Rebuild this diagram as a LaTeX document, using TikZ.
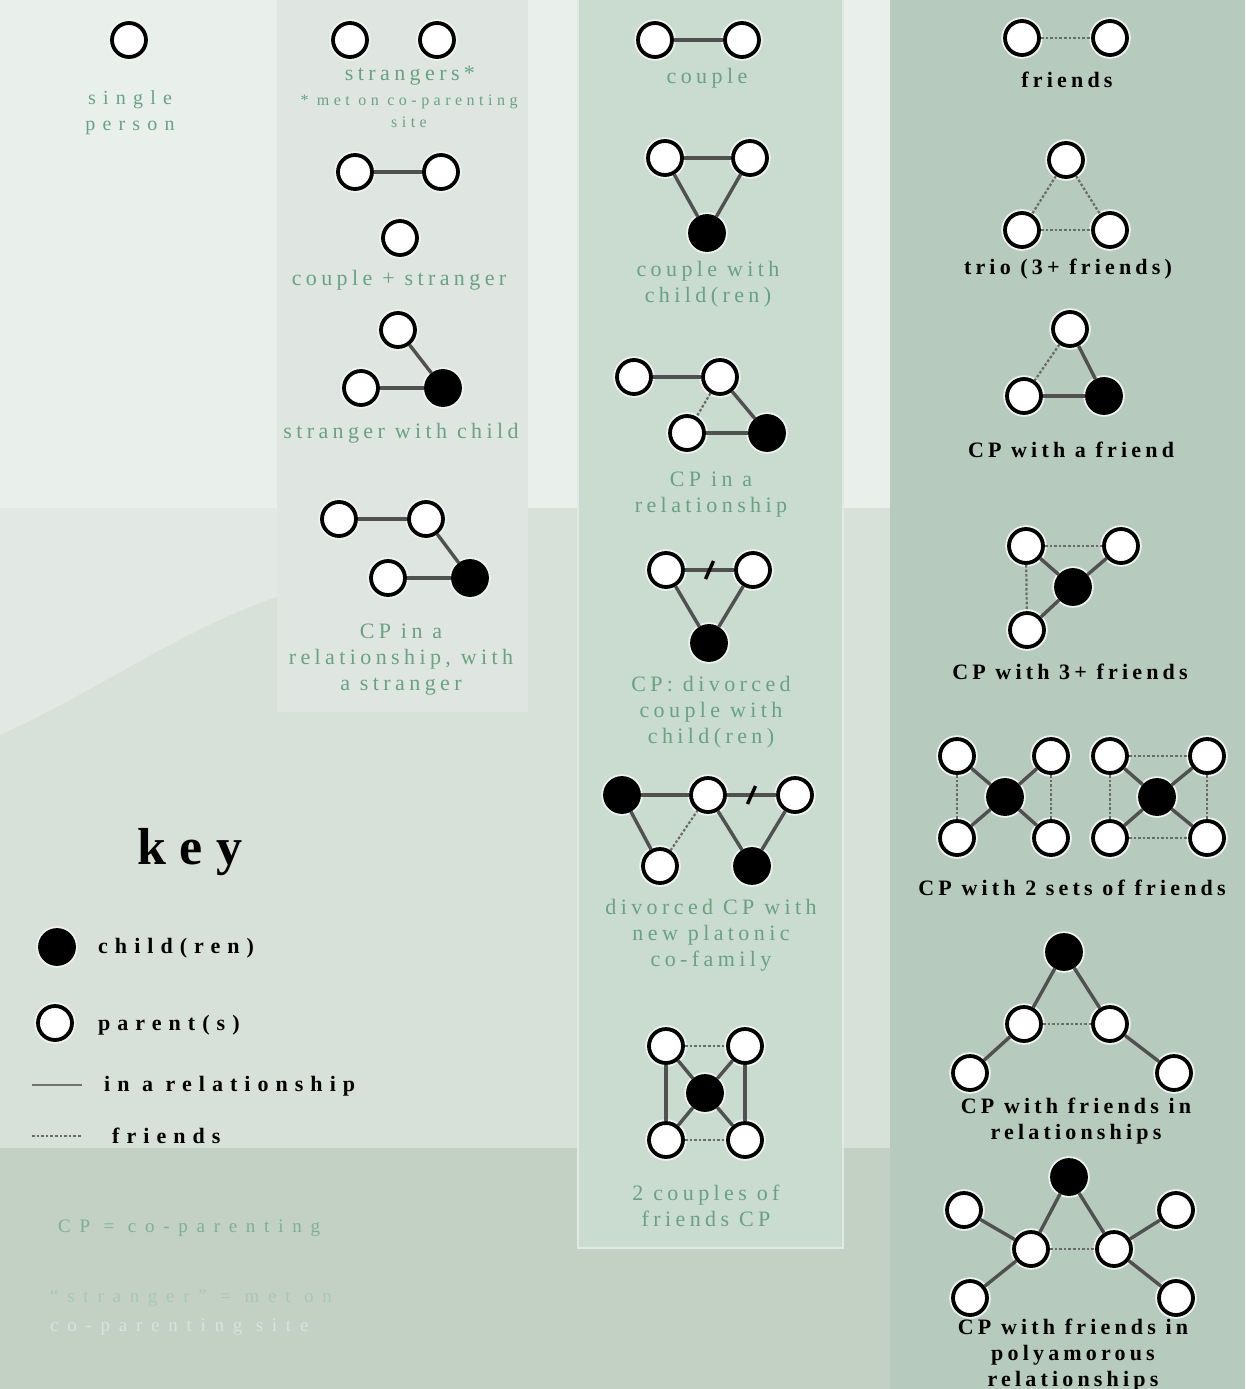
\documentclass[tikz,border=0pt]{standalone}
\usepackage{fontspec}
\setmainfont{Liberation Serif}
\newfontfamily\labfont[LetterSpace=20]{Liberation Serif}
\newfontfamily\sitefont[LetterSpace=28]{Liberation Serif}
\newfontfamily\wideont[LetterSpace=36]{Liberation Serif}
\newfontfamily\widerfont[LetterSpace=46]{Liberation Serif}
\newfontfamily\boldlab[LetterSpace=19]{Liberation Serif}
\newfontfamily\keylab[LetterSpace=32]{Liberation Serif}
\newfontfamily\keytitle[LetterSpace=26]{Liberation Serif}
\usetikzlibrary{decorations.markings}
\definecolor{bgtop}{HTML}{E9F0EB}
\definecolor{bgmidA}{HTML}{E2E9E4}
\definecolor{bgmid}{HTML}{D7E1D9}
\definecolor{bgbot}{HTML}{C3D1C4}
\definecolor{coltwo}{HTML}{DFE6E1}
\definecolor{colthree}{HTML}{CADBD0}
\definecolor{colfour}{HTML}{B6CBBD}
\definecolor{greentxt}{HTML}{68A282}
\definecolor{fainttxt}{HTML}{A9C7B3}
\definecolor{faintertxt}{HTML}{D6E4DA}
\definecolor{relc}{HTML}{505050}
\definecolor{frc}{HTML}{6A6A6A}
\definecolor{haloc}{HTML}{EEF5F0}
\tikzset{
  par/.style={circle, draw=black, line width=3.8pt, fill=white, minimum size=34pt, inner sep=0pt,
              preaction={draw=haloc, line width=7.5pt, fill=none}},
  kid/.style={circle, draw=black, line width=3.8pt, fill=black, minimum size=34pt, inner sep=0pt,
              preaction={draw=haloc, line width=7.5pt, fill=none}},
  rel/.style={draw=relc, line width=3.4pt},
  fr/.style={draw=frc, line width=2.2pt, dash pattern=on 2.6pt off 2pt},
  divorced/.style={postaction={decorate, decoration={markings,
      mark=at position 0.5 with {\draw[black, line width=3.4pt] (-4pt,-9pt) -- (4pt,9pt);}}}},
  glab/.style={text=greentxt, font=\labfont\fontsize{22}{26}\selectfont, align=center, inner sep=0pt},
  blab/.style={text=black, font=\boldlab\bfseries\fontsize{22}{26}\selectfont, align=center, inner sep=0pt},
  klab/.style={text=black, font=\keylab\bfseries\fontsize{22}{26}\selectfont, anchor=west, inner sep=0pt},
}
\begin{document}
\begin{tikzpicture}[x=1pt,y=-1pt]
\useasboundingbox (0,0) rectangle (1245,1389);
% ---------- background ----------
\fill[bgtop] (0,0) rectangle (1245,1389);
\fill[bgmidA] (0,508) rectangle (890,1148);
\fill[bgmid] (0,735) .. controls (100,690) and (180,630) .. (277,597) -- (528,508) -- (890,508) -- (890,1148) -- (0,1148) -- cycle;
\fill[bgbot] (0,1148) rectangle (890,1389);
\fill[coltwo] (277,0) rectangle (528,712);
\fill[colthree, draw=bgmidA, line width=1.2pt] (578,-2) rectangle (843,1248);
\fill[colfour] (890,0) rectangle (1245,1389);

% ---------- column 1 ----------
\node[par] (sp) at (129,40) {};
\node[text=greentxt, font=\wideont\fontsize{20}{26}\selectfont, align=center, inner sep=0pt] (spl) at (130,113) {single\\person};

% ---------- column 2 ----------
\node[par] (st1) at (350,40) {};
\node[par] (st2) at (437,40) {};
\node[glab] (stl) at (410,76) {strangers*};
\node[text=greentxt, font=\sitefont\fontsize{16}{22}\selectfont, align=center, inner sep=0pt] (stl2) at (409,111) {* met on co-parenting\\site};

\node[par] (cs1) at (355,172) {};
\node[par] (cs2) at (441,172) {};
\node[par] (cs3) at (400,238) {};
\draw[rel] (cs1) -- (cs2);
\node[glab] (csl) at (399,280) {couple + stranger};

\node[par] (sw1) at (398,330) {};
\node[par] (sw2) at (361,388) {};
\node[kid] (sw3) at (443,388) {};
\draw[rel] (sw1) -- (sw3);
\draw[rel] (sw2) -- (sw3);
\node[glab] (swl) at (401,433) {stranger with child};

\node[par] (cr1) at (339,519) {};
\node[par] (cr2) at (426,519) {};
\node[par] (cr3) at (388,578) {};
\node[kid] (cr4) at (470,578) {};
\draw[rel] (cr1) -- (cr2);
\draw[rel] (cr2) -- (cr4);
\draw[rel] (cr3) -- (cr4);
\node[glab] (crl) at (401,660) {CP in a\\relationship, with\\a stranger};

% ---------- column 3 ----------
\node[par] (cp1) at (655,40) {};
\node[par] (cp2) at (742,40) {};
\draw[rel] (cp1) -- (cp2);
\node[glab] (cpl) at (707,78) {couple};

\node[par] (cc1) at (665,158) {};
\node[par] (cc2) at (750,158) {};
\node[kid] (cc3) at (707,233) {};
\draw[rel] (cc1) -- (cc2);
\draw[rel] (cc1) -- (cc3);
\draw[rel] (cc2) -- (cc3);
\node[glab] (ccl) at (708,284) {couple with\\child(ren)};

\node[par] (cq1) at (634,377) {};
\node[par] (cq2) at (720,377) {};
\node[par] (cq3) at (687,433) {};
\node[kid] (cq4) at (767,433) {};
\draw[rel] (cq1) -- (cq2);
\draw[rel] (cq2) -- (cq4);
\draw[rel] (cq3) -- (cq4);
\draw[fr] (cq2) -- (cq3);
\node[glab] (cql) at (711,495) {CP in a\\relationship};

\node[par] (dv1) at (666,570) {};
\node[par] (dv2) at (753,570) {};
\node[kid] (dv3) at (709,643) {};
\draw[rel, divorced] (dv1) -- (dv2);
\draw[rel] (dv1) -- (dv3);
\draw[rel] (dv2) -- (dv3);
\node[glab] (dvl) at (711,712) {CP: divorced\\couple with\\child(ren)};

\node[kid] (np1) at (622,795) {};
\node[par] (np2) at (708,795) {};
\node[par] (np3) at (795,795) {};
\node[par] (np4) at (660,866) {};
\node[kid] (np5) at (752,866) {};
\draw[rel] (np1) -- (np2);
\draw[rel, divorced] (np2) -- (np3);
\draw[rel] (np1) -- (np4);
\draw[fr] (np4) -- (np2);
\draw[rel] (np2) -- (np5);
\draw[rel] (np3) -- (np5);
\node[glab] (npl) at (711,935) {divorced CP with\\new platonic\\co-family};

\node[par] (tc1) at (666,1046) {};
\node[par] (tc2) at (745,1046) {};
\node[par] (tc3) at (666,1140) {};
\node[par] (tc4) at (745,1140) {};
\node[kid] (tc5) at (705,1093) {};
\draw[fr] (tc1) -- (tc2);
\draw[fr] (tc3) -- (tc4);
\draw[rel] (tc1) -- (tc3);
\draw[rel] (tc2) -- (tc4);
\draw[rel] (tc1) -- (tc5);
\draw[rel] (tc2) -- (tc5);
\draw[rel] (tc3) -- (tc5);
\draw[rel] (tc4) -- (tc5);
\node[glab] (tcl) at (706,1206) {2 couples of\\friends CP};

% ---------- column 4 ----------
\node[par] (fr1) at (1022,38) {};
\node[par] (fr2) at (1110,38) {};
\draw[fr] (fr1) -- (fr2);
\node[blab] (frl) at (1067,80) {friends};

\node[par] (tr1) at (1066,160) {};
\node[par] (tr2) at (1022,230) {};
\node[par] (tr3) at (1110,230) {};
\draw[fr] (tr1) -- (tr2);
\draw[fr] (tr1) -- (tr3);
\draw[fr] (tr2) -- (tr3);
\node[blab] (trl) at (1068,269) {trio (3+ friends)};

\node[par] (cf1) at (1070,329) {};
\node[par] (cf2) at (1024,396) {};
\node[kid] (cf3) at (1104,396) {};
\draw[fr] (cf1) -- (cf2);
\draw[rel] (cf1) -- (cf3);
\draw[rel] (cf2) -- (cf3);
\node[blab] (cfl) at (1071,450) {CP with a friend};

\node[par] (ct1) at (1026,546) {};
\node[par] (ct2) at (1121,546) {};
\node[kid] (ct3) at (1073,587) {};
\node[par] (ct4) at (1027,630) {};
\draw[fr] (ct1) -- (ct2);
\draw[fr] (ct1) -- (ct4);
\draw[rel] (ct1) -- (ct3);
\draw[rel] (ct2) -- (ct3);
\draw[rel] (ct4) -- (ct3);
\node[blab] (ctl) at (1070,672) {CP with 3+ friends};

\node[par] (sa1) at (957,756) {};
\node[par] (sa2) at (1051,756) {};
\node[par] (sa3) at (957,838) {};
\node[par] (sa4) at (1051,838) {};
\node[kid] (sa5) at (1005,797) {};
\draw[rel] (sa1) -- (sa5);
\draw[rel] (sa2) -- (sa5);
\draw[rel] (sa3) -- (sa5);
\draw[rel] (sa4) -- (sa5);
\draw[fr] (sa1) -- (sa3);
\draw[fr] (sa2) -- (sa4);
\node[par] (sb1) at (1110,756) {};
\node[par] (sb2) at (1207,756) {};
\node[par] (sb3) at (1110,838) {};
\node[par] (sb4) at (1207,838) {};
\node[kid] (sb5) at (1157,797) {};
\draw[rel] (sb1) -- (sb5);
\draw[rel] (sb2) -- (sb5);
\draw[rel] (sb3) -- (sb5);
\draw[rel] (sb4) -- (sb5);
\draw[fr] (sb1) -- (sb2);
\draw[fr] (sb3) -- (sb4);
\draw[fr] (sb1) -- (sb3);
\draw[fr] (sb2) -- (sb4);
\node[blab] (sal) at (1072,888) {CP with 2 sets of friends};

\node[kid] (fi1) at (1064,952) {};
\node[par] (fi2) at (1024,1024) {};
\node[par] (fi3) at (1110,1024) {};
\node[par] (fi4) at (970,1073) {};
\node[par] (fi5) at (1174,1073) {};
\draw[rel] (fi1) -- (fi2);
\draw[rel] (fi1) -- (fi3);
\draw[fr] (fi2) -- (fi3);
\draw[rel] (fi2) -- (fi4);
\draw[rel] (fi3) -- (fi5);
\node[blab] (fil) at (1076,1121) {CP with friends in\\relationships};

\node[kid] (po1) at (1069,1177) {};
\node[par] (po2) at (964,1210) {};
\node[par] (po3) at (1176,1210) {};
\node[par] (po4) at (1031,1249) {};
\node[par] (po5) at (1114,1249) {};
\node[par] (po6) at (970,1298) {};
\node[par] (po7) at (1176,1298) {};
\draw[rel] (po1) -- (po4);
\draw[rel] (po1) -- (po5);
\draw[fr] (po4) -- (po5);
\draw[rel] (po4) -- (po2);
\draw[rel] (po4) -- (po6);
\draw[rel] (po5) -- (po3);
\draw[rel] (po5) -- (po7);
\node[blab] (pol) at (1073,1355) {CP with friends in\\polyamorous\\relationships};

% ---------- key ----------
\node[text=black, font=\keytitle\bfseries\fontsize{52}{56}\selectfont, inner sep=0pt] (keyt) at (190,852) {key};
\node[kid] (kk) at (57,947) {};
\node[klab] (kkl) at (98,948) {child(ren)};
\node[par] (kp) at (55,1023) {};
\node[klab] (kpl) at (98,1025) {parent(s)};
\coordinate (kr1) at (32,1085);
\coordinate (kr2) at (82,1085);
\draw[rel, line width=2.6pt, draw=relc!80] (kr1) -- (kr2);
\node[klab] (krl) at (104,1086) {in a relationship};
\coordinate (kf1) at (32,1136);
\coordinate (kf2) at (82,1136);
\draw[fr, line width=1.8pt] (kf1) -- (kf2);
\node[klab] (kfl) at (112,1136) {friends};

% ---------- notes ----------
\node[text=greentxt!85!white, font=\widerfont\fontsize{19}{26}\selectfont, anchor=west, inner sep=0pt] (n1) at (58,1228) {CP = co-parenting};
\node[text=fainttxt, font=\widerfont\fontsize{19}{26}\selectfont, anchor=west, inner sep=0pt] (n2) at (50,1298) {“stranger” = met on};
\node[text=faintertxt, font=\widerfont\fontsize{19}{26}\selectfont, anchor=west, inner sep=0pt] (n3) at (50,1327) {co-parenting site};
\end{tikzpicture}
\end{document}
